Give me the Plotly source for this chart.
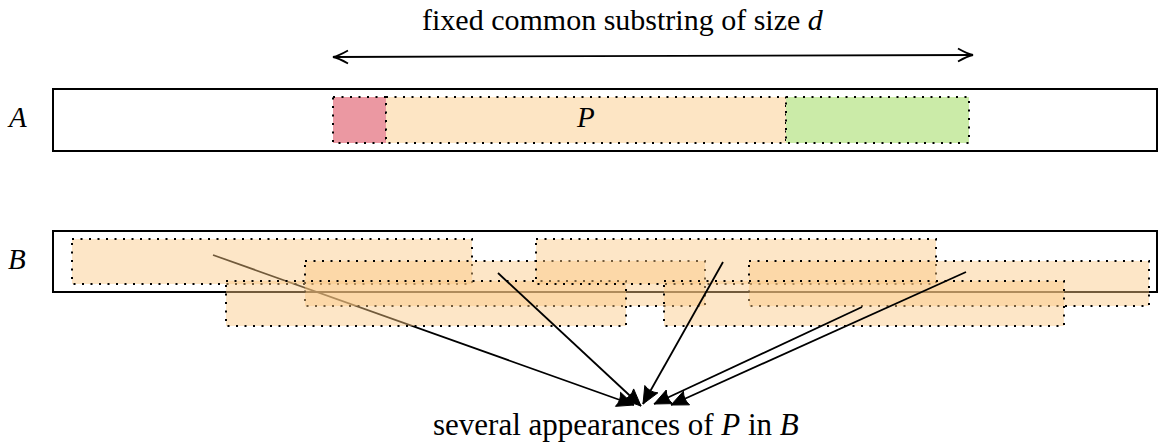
import math
import plotly.graph_objects as go

# ---------------- data ----------------
string_labels = ["A", "B"]
string_label_y = [117, 259]
string_box_top = [89, 231]
string_box_bottom = [151, 292]
string_box_left = 53
string_box_right = 1157

a_segment_names = ["prefix", "P", "suffix"]
a_segment_starts = [333, 386, 786]
a_segment_ends = [386, 786, 969]
a_segment_colors = ["#EB98A2", "#FDE5C4", "#CBEBA8"]
a_segment_top, a_segment_bottom = 97, 143

pattern_len = 400
b_match_starts = [72, 536, 305, 749, 226, 664]
b_match_rows = [0, 0, 1, 1, 2, 2]
b_row_tops = [239, 261, 281]
b_match_height = 45

arrow_from_x = [213, 498, 723, 966, 862]
arrow_from_y = [255, 273, 262, 272, 307]
arrow_to_x = [634, 641, 643, 671, 654]
arrow_to_y = [405, 406, 404, 405, 404]
arrow_below_matches = [True, False, False, False, False]

span_x = [333, 973]
span_y = [57, 55]

top_text = "fixed common substring of size <i>d</i>"
bottom_text = "several appearances of <i>P</i> in <i>B</i>"

W, H = 1158, 444
FONT = "Liberation Serif"
DOT = "2px,6.5px"

shapes = []
annotations = []

# ---------------- string A ----------------
shapes.append(dict(type="rect", x0=string_box_left, x1=string_box_right,
                   y0=string_box_top[0], y1=string_box_bottom[0],
                   line=dict(color="black", width=2), fillcolor="rgba(0,0,0,0)"))
for s, e, c in zip(a_segment_starts, a_segment_ends, a_segment_colors):
    shapes.append(dict(type="rect", x0=s, x1=e, y0=a_segment_top, y1=a_segment_bottom,
                       fillcolor=c, line=dict(color="black", width=2, dash=DOT)))
p_idx = a_segment_names.index("P")
annotations.append(dict(x=(a_segment_starts[p_idx] + a_segment_ends[p_idx]) / 2 - 1,
                        y=(a_segment_top + a_segment_bottom) / 2 - 3,
                        text="<i>P</i>", showarrow=False,
                        font=dict(family=FONT, size=29, color="black")))

# ---------------- double arrow ----------------
shapes.append(dict(type="line", x0=span_x[0], y0=span_y[0], x1=span_x[1], y1=span_y[1],
                   line=dict(color="black", width=1.8)))


def open_head(tx, ty, ux, uy, L=15, w=6.5):
    nx, ny = -uy, ux
    bx, by = tx - L * ux, ty - L * uy
    mx, my = tx - 0.35 * L * ux, ty - 0.35 * L * uy
    return (f"M {bx + w * nx},{by + w * ny} Q {mx + 0.15 * w * nx},{my + 0.15 * w * ny} {tx},{ty} "
            f"Q {mx - 0.15 * w * nx},{my - 0.15 * w * ny} {bx - w * nx},{by - w * ny}")


dx, dy = span_x[1] - span_x[0], span_y[1] - span_y[0]
d = math.hypot(dx, dy)
ux, uy = dx / d, dy / d
shapes.append(dict(type="path", path=open_head(span_x[1], span_y[1], ux, uy),
                   line=dict(color="black", width=1.8)))
shapes.append(dict(type="path", path=open_head(span_x[0], span_y[0], -ux, -uy),
                   line=dict(color="black", width=1.8)))

# ---------------- string B ----------------
shapes.append(dict(type="rect", x0=string_box_left, x1=string_box_right,
                   y0=string_box_top[1], y1=string_box_bottom[1],
                   line=dict(color="black", width=2), fillcolor="rgba(0,0,0,0)"))


def arrow_line(i):
    return dict(type="line", x0=arrow_from_x[i], y0=arrow_from_y[i],
                x1=arrow_to_x[i], y1=arrow_to_y[i], line=dict(color="black", width=1.8))


def filled_head(i, L=17, w=7.5):
    fx, fy, tx, ty = arrow_from_x[i], arrow_from_y[i], arrow_to_x[i], arrow_to_y[i]
    dd = math.hypot(tx - fx, ty - fy)
    ux, uy = (tx - fx) / dd, (ty - fy) / dd
    nx, ny = -uy, ux
    bx, by = tx - L * ux, ty - L * uy
    cx, cy = tx - 0.8 * L * ux, ty - 0.8 * L * uy
    path = (f"M {tx},{ty} L {bx + w * nx},{by + w * ny} "
            f"Q {cx},{cy} {bx - w * nx},{by - w * ny} Z")
    return dict(type="path", path=path, fillcolor="black", line=dict(color="black", width=1))


for i in range(len(arrow_from_x)):
    if arrow_below_matches[i]:
        shapes.append(arrow_line(i))

order = [0, 2, 4, 1, 3, 5]
for k in order:
    s = b_match_starts[k]
    top = b_row_tops[b_match_rows[k]]
    shapes.append(dict(type="rect", x0=s, x1=s + pattern_len, y0=top, y1=top + b_match_height,
                       fillcolor="rgba(250,200,130,0.45)",
                       line=dict(color="black", width=2, dash=DOT)))

for i in range(len(arrow_from_x)):
    if not arrow_below_matches[i]:
        shapes.append(arrow_line(i))
for i in range(len(arrow_from_x)):
    shapes.append(filled_head(i))

# ---------------- labels ----------------
for lab, y in zip(string_labels, string_label_y):
    annotations.append(dict(x=17, y=y, text=f"<i>{lab}</i>", showarrow=False,
                            font=dict(family=FONT, size=29, color="black")))
annotations.append(dict(x=623, y=2, yanchor="top", text=top_text, showarrow=False,
                        borderpad=0, font=dict(family=FONT, size=30, color="black")))
annotations.append(dict(x=616, y=443, yanchor="bottom", text=bottom_text, showarrow=False,
                        borderpad=0, font=dict(family=FONT, size=31, color="black")))

fig = go.Figure()
fig.update_layout(
    width=W, height=H, margin=dict(l=0, r=0, t=0, b=0),
    paper_bgcolor="white", plot_bgcolor="white",
    xaxis=dict(range=[0, W], visible=False, fixedrange=True),
    yaxis=dict(range=[H, 0], visible=False, fixedrange=True),
    shapes=shapes, annotations=annotations, showlegend=False,
)
fig.write_html(
    "out.html",
    config={"displayModeBar": False, "staticPlot": True},
    post_script="document.body.style.margin='0';document.body.style.overflow='hidden';",
)
